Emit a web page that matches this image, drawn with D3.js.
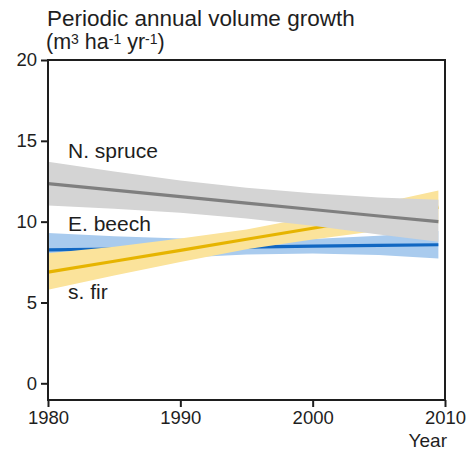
<!DOCTYPE html>
<html>
<head>
<meta charset="utf-8">
<script src="https://cdn.jsdelivr.net/npm/d3@7"></script>
<style>
  html, body { margin: 0; padding: 0; background: #fff; }
  svg { display: block; font-family: "Liberation Sans", Arial, Helvetica, sans-serif; }
</style>
</head>
<body>
<svg id="chart" width="473" height="450"></svg>
<script>
// Fitted trend and confidence limits of periodic annual volume growth
const years = [1980, 1985, 1990, 1995, 2000, 2005, 2009.5];

const spruceFit   = [12.35, 11.95, 11.55, 11.15, 10.75, 10.35, 10.00];
const spruceUpper = [13.70, 13.10, 12.55, 12.10, 11.75, 11.50, 11.35];
const spruceLower = [11.00, 10.80, 10.55, 10.20, 9.75, 9.20, 8.75];

const beechFit   = [8.25, 8.30, 8.36, 8.42, 8.48, 8.53, 8.57];
const beechUpper = [9.30, 9.10, 8.96, 8.87, 8.93, 9.13, 9.42];
const beechLower = [7.20, 7.50, 7.76, 7.97, 8.03, 7.93, 7.72];

const firFit   = [6.88, 7.55, 8.22, 8.91, 9.59, 10.28, 10.90];
const firUpper = [8.05, 8.45, 8.95, 9.52, 10.30, 11.13, 11.93];
const firLower = [5.78, 6.67, 7.50, 8.30, 8.89, 9.43, 9.87];

const xTicks = [1980, 1990, 2000, 2010];
const yTicks = [0, 5, 10, 15, 20];

// drawing order: beech, fir, spruce (later ones overlap earlier ones)
const species = [
  { name: "E. beech",  fit: beechFit,  upper: beechUpper,  lower: beechLower,  band: "#a9cbee", line: "#1167c2", labelY: 9.4 },
  { name: "s. fir",    fit: firFit,    upper: firUpper,    lower: firLower,    band: "#fbe39b", line: "#e6b400", labelY: 5.2 },
  { name: "N. spruce", fit: spruceFit, upper: spruceUpper, lower: spruceLower, band: "#d4d4d4", line: "#7f7f7f", labelY: 13.93 }
];

const svg = d3.select("#chart");
const plotLeft = 48, plotRight = 445, plotTop = 60, plotBottom = 400;

const x = d3.scaleLinear().domain([1980, 2010]).range([plotLeft, plotRight]);
const y = d3.scaleLinear().domain([0, 20]).range([383.3, plotTop]);

const ink = "#1e1e1e";

// bands and trend lines
species.forEach(s => {
  const pts = years.map((yr, i) => ({ yr, fit: s.fit[i], lo: s.lower[i], hi: s.upper[i] }));
  svg.append("path")
    .datum(pts)
    .attr("fill", s.band)
    .attr("d", d3.area().x(d => x(d.yr)).y0(d => y(d.lo)).y1(d => y(d.hi)));
  svg.append("path")
    .datum(pts)
    .attr("fill", "none")
    .attr("stroke", s.line)
    .attr("stroke-width", 3.2)
    .attr("d", d3.line().x(d => x(d.yr)).y(d => y(d.fit)));
});

// species labels
species.forEach(s => {
  svg.append("text")
    .attr("x", 68)
    .attr("y", y(s.labelY))
    .attr("fill", ink)
    .attr("font-size", 21)
    .text(s.name);
});

// frame
svg.append("rect")
  .attr("x", plotLeft).attr("y", plotTop)
  .attr("width", plotRight - plotLeft).attr("height", plotBottom - plotTop)
  .attr("fill", "none").attr("stroke", ink).attr("stroke-width", 2);

// y axis ticks
const yAxis = svg.append("g")
  .attr("transform", `translate(${plotLeft},0)`)
  .call(d3.axisLeft(y).tickValues(yTicks).tickSize(7).tickPadding(4).tickFormat(d3.format("d")));
yAxis.select(".domain").remove();
yAxis.selectAll("line").attr("stroke", ink).attr("stroke-width", 2);
yAxis.selectAll("text").attr("fill", ink).attr("font-size", 18.5).attr("font-family", null);

// x axis ticks
const xAxis = svg.append("g")
  .attr("transform", `translate(0,${plotBottom})`)
  .call(d3.axisBottom(x).tickValues(xTicks).tickSize(7).tickPadding(4).tickFormat(d3.format("d")));
xAxis.select(".domain").remove();
xAxis.selectAll("line").attr("stroke", ink).attr("stroke-width", 2);
xAxis.selectAll("text").attr("fill", ink).attr("font-size", 18.5).attr("font-family", null);

// axis titles
svg.append("text")
  .attr("x", 447).attr("y", 447)
  .attr("text-anchor", "end")
  .attr("fill", ink).attr("font-size", 19)
  .text("Year");

svg.append("text")
  .attr("x", 47).attr("y", 25.5)
  .attr("fill", ink).attr("font-size", 22.5)
  .text("Periodic annual volume growth");

const unit = svg.append("text")
  .attr("x", 46).attr("y", 49)
  .attr("fill", ink).attr("font-size", 21.5);
unit.append("tspan").text("(m");
unit.append("tspan").attr("dy", -5.5).attr("font-size", 14).text("3");
unit.append("tspan").attr("dy", 5.5).text(" ha");
unit.append("tspan").attr("dy", -5.5).attr("font-size", 14).text("-1");
unit.append("tspan").attr("dy", 5.5).text(" yr");
unit.append("tspan").attr("dy", -5.5).attr("font-size", 14).text("-1");
unit.append("tspan").attr("dy", 5.5).text(")");
</script>
</body>
</html>
